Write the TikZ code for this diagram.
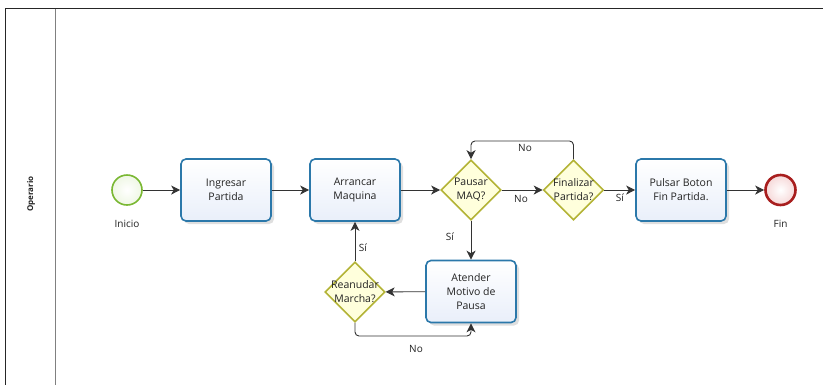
\documentclass[tikz,border=0pt]{standalone}
\usepackage{fontspec}
\setmainfont{Open Sans}
\usetikzlibrary{arrows.meta,shapes.geometric,shadows}
\definecolor{taskline}{HTML}{2B78AA}
\definecolor{taskfill}{HTML}{E9EFFA}
\definecolor{gwline}{HTML}{B3B336}
\definecolor{gwfill}{HTML}{FFFFDC}
\definecolor{startline}{HTML}{7AB833}
\definecolor{startfill}{HTML}{EEF8DE}
\definecolor{endline}{HTML}{A81E1E}
\definecolor{endfill}{HTML}{F6D8D8}
\definecolor{flowc}{HTML}{333333}
\definecolor{txt}{HTML}{222222}
\tikzset{
  task/.style={draw=taskline, line width=1.6pt, rounded corners=5pt,
    top color=white, bottom color=taskfill, minimum width=90pt, minimum height=62pt,
    align=center, font=\fontsize{10.5}{14}\selectfont, text=txt,
    drop shadow={shadow xshift=3pt, shadow yshift=-3pt, opacity=0.25}},
  gw/.style={diamond, aspect=1, draw=gwline, line width=1.6pt, fill=gwfill,
    minimum width=60pt, minimum height=60pt, inner sep=0pt},
  gwtext/.style={align=center, font=\fontsize{10.5}{14}\selectfont, text=txt},
  startev/.style={circle, draw=startline, line width=1.6pt, inner color=white, outer color=startfill!80!startline!40, minimum size=30pt, inner sep=0pt},
  endev/.style={circle, draw=endline, line width=2.6pt, inner color=white, outer color=endfill, minimum size=30pt, inner sep=0pt},
  flow/.style={draw=flowc, line width=0.9pt, rounded corners=4pt, -{Stealth[length=9pt,width=9pt,inset=2.5pt]}},
  lbl/.style={font=\fontsize{10}{12}\selectfont, text=txt, inner sep=0pt}
}
\begin{document}
\begin{tikzpicture}[x=1pt,y=-1pt]
\useasboundingbox[fill=white] (0,0) rectangle (823,384);
% pool
\draw[black!85, line width=0.9pt] (823,8.5) -- (5.5,8.5) -- (5.5,390);
\draw[black!50, line width=1.8pt] (55.5,8.5) -- (55.5,390);
\node[rotate=90, font=\bfseries\fontsize{8}{10}\selectfont, text=txt] (lane) at (31,194) {Operario};
% events
\node[startev] (s) at (127,190) {};
\node[lbl] (sl) at (127,224) {Inicio};
\node[endev] (e) at (780.5,190) {};
\node[lbl] (el) at (780.5,224) {Fin};
% tasks
\node[task] (t1) at (226,190) {Ingresar\\Partida};
\node[task] (t2) at (355,190) {Arrancar\\Maquina};
\node[task] (t3) at (681,190) {Pulsar Boton\\Fin Partida.};
\node[task] (t4) at (471,291.5) {Atender\\Motivo de\\Pausa};
% gateways
\node[gw] (g1) at (471,190) {};
\node[gwtext] (g1t) at (g1) {Pausar\\MAQ?};
\node[gw] (g2) at (573.5,190) {};
\node[gwtext] (g2t) at (g2) {Finalizar\\Partida?};
\node[gw] (g3) at (355,292) {};
\node[gwtext] (g3t) at (g3) {Reanudar\\Marcha?};
% flows
\draw[flow] (s) -- (t1);
\draw[flow] (t1) -- (t2);
\draw[flow] (t2) -- (g1);
\draw[flow] (g1) -- (g2);
\node[lbl] (l1) at (521,199) {No};
\draw[flow] (g2) -- (t3);
\node[lbl] (l2) at (620,198) {Sí};
\draw[flow] (t3) -- (e);
\draw[flow] (g2.north) -- (573.5,141) -| (g1.north);
\node[lbl] (l3) at (525,148) {No};
\draw[flow] (g1) -- (t4);
\node[lbl] (l4) at (450,237) {Sí};
\draw[flow] (t4) -- (g3);
\draw[flow] (g3) -- (t2);
\node[lbl] (l5) at (363,248) {Sí};
\draw[flow] (g3.south) -- (355,336) -| (t4.south);
\node[lbl] (l6) at (416,349) {No};
\end{tikzpicture}
\end{document}
